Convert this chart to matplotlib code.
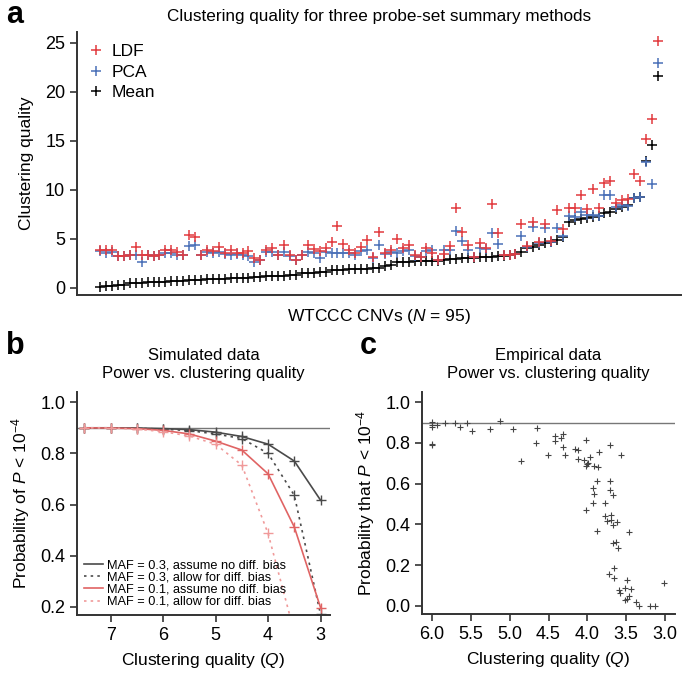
import matplotlib
matplotlib.use('Agg')
import matplotlib.pyplot as plt
from matplotlib.lines import Line2D

plt.rcParams['font.family'] = ['Liberation Sans', 'DejaVu Sans']
plt.rcParams['mathtext.fontset'] = 'custom'
plt.rcParams['mathtext.rm'] = 'Liberation Sans'
plt.rcParams['mathtext.it'] = 'Liberation Sans:italic'

# panel a: clustering quality for 95 WTCCC CNVs, sorted by Mean
mean_q = [0.1, 0.2, 0.2, 0.25, 0.3, 0.45, 0.5, 0.5, 0.55, 0.55,
          0.6, 0.6, 0.65, 0.7, 0.7, 0.75, 0.8, 0.8, 0.85, 0.85,
          0.9, 0.9, 0.95, 0.95, 1.0, 1.0, 1.05, 1.1, 1.15, 1.15,
          1.2, 1.2, 1.25, 1.3, 1.45, 1.5, 1.5, 1.55, 1.6, 1.8,
          1.85, 1.85, 1.9, 1.9, 1.95, 1.95, 2.0, 2.0, 2.2, 2.3,
          2.6, 2.65, 2.65, 2.7, 2.7, 2.7, 2.75, 2.75, 2.8, 2.9,
          2.95, 3.0, 3.0, 3.05, 3.1, 3.1, 3.15, 3.2, 3.25, 3.3,
          3.4, 3.6, 4.05, 4.2, 4.35, 4.6, 4.7, 4.85, 5.2, 6.7,
          6.9, 7.0, 7.1, 7.2, 7.3, 7.6, 7.75, 8.0, 8.2, 8.4,
          9.2, 9.3, 12.9, 14.6, 21.6]
ldf_q = [3.85, 3.85, 3.8, 3.2, 3.2, 3.35, 4.2, 3.3, 3.35, 3.2,
         3.35, 3.85, 3.85, 3.6, 3.3, 5.4, 5.2, 3.3, 3.85, 3.7,
         4.1, 3.5, 3.8, 3.5, 3.5, 3.75, 3.0, 2.8, 3.85, 4.0,
         3.35, 4.35, 3.3, 2.85, 3.35, 4.35, 3.9, 3.75, 4.0, 4.7,
         6.3, 4.5, 3.85, 3.5, 4.2, 4.9, 3.15, 5.7, 3.5, 3.85,
         5.0, 4.0, 4.4, 3.35, 3.15, 4.0, 3.5, 2.8, 3.45, 4.3,
         8.1, 5.7, 4.35, 3.15, 4.6, 4.0, 8.5, 5.6, 3.3, 3.3,
         3.4, 6.5, 4.3, 6.7, 4.7, 6.5, 4.8, 7.9, 6.0, 8.1,
         8.1, 9.5, 8.0, 10.1, 8.1, 10.7, 10.9, 8.6, 8.9, 9.0,
         11.6, 10.9, 15.2, 17.2, 25.2]
pca_q = [3.7, 3.5, 3.6, 3.2, 3.2, 3.3, 3.35, 2.65, 3.3, 3.2,
         3.3, 3.5, 3.5, 3.35, 3.3, 4.25, 4.4, 3.3, 3.6, 3.5,
         3.6, 3.4, 3.35, 3.4, 3.35, 3.2, 2.65, 2.8, 3.6, 3.6,
         3.3, 3.6, 3.2, 2.85, 3.3, 3.6, 3.5, 3.05, 3.6, 3.5,
         3.55, 3.55, 3.5, 3.35, 3.7, 3.85, 3.0, 4.4, 3.4, 3.6,
         3.55, 3.7, 3.85, 3.2, 3.1, 3.7, 3.85, 2.8, 3.85, 3.85,
         5.8, 4.75, 3.85, 3.1, 4.0, 3.9, 5.6, 4.5, 3.3, 3.3,
         3.45, 5.3, 4.1, 6.2, 4.6, 6.1, 4.7, 6.1, 5.3, 7.3,
         7.2, 7.7, 7.4, 7.4, 7.3, 9.45, 9.45, 8.2, 8.4, 8.3,
         9.2, 9.3, 12.8, 10.6, 22.9]

# panel b: simulated power curves
q_sim = [7.5, 7, 6.5, 6, 5.5, 5, 4.5, 4, 3.5, 3]
maf3_nobias = [0.9, 0.9, 0.899, 0.897, 0.893, 0.883, 0.866, 0.836, 0.77, 0.617]
maf3_bias = [0.9, 0.9, 0.898, 0.895, 0.889, 0.876, 0.858, 0.80, 0.636, 0.17]
maf1_nobias = [0.9, 0.899, 0.897, 0.89, 0.876, 0.848, 0.813, 0.72, 0.512, 0.197]
maf1_bias = [0.9, 0.899, 0.895, 0.885, 0.868, 0.836, 0.754, 0.487, 0.10, 0.0]
sim_labels = ['MAF = 0.3, assume no diff. bias', 'MAF = 0.3, allow for diff. bias',
              'MAF = 0.1, assume no diff. bias', 'MAF = 0.1, allow for diff. bias']

# panel c: empirical power
q_emp = [6.0, 6.0, 6.0, 6.0, 6.0, 5.94, 5.84, 5.70, 5.64, 5.55,
         5.49, 5.26, 5.12, 4.96, 4.86, 4.66, 4.65, 4.51, 4.42, 4.42,
         4.34, 4.31, 4.31, 4.29, 4.02, 4.16, 4.12, 4.12, 4.04, 4.01,
         4.02, 3.99, 3.96, 3.92, 3.86, 3.85, 3.71, 3.56, 3.88, 3.93,
         3.92, 3.93, 4.02, 3.71, 3.71, 3.67, 3.77, 3.77, 3.69, 3.70,
         3.74, 3.62, 3.67, 3.87, 3.46, 3.67, 3.63, 3.61, 3.66, 3.72,
         3.66, 3.49, 3.59, 3.58, 3.52, 3.44, 3.52, 3.49, 3.46, 3.37,
         3.34, 3.19, 3.13, 3.01]
p_emp = [0.905, 0.89, 0.88, 0.795, 0.79, 0.888, 0.9, 0.897, 0.877, 0.9,
         0.86, 0.867, 0.91, 0.867, 0.712, 0.802, 0.871, 0.742, 0.807, 0.832,
         0.826, 0.845, 0.78, 0.739, 0.813, 0.772, 0.767, 0.723, 0.718, 0.698,
         0.689, 0.702, 0.731, 0.685, 0.682, 0.755, 0.791, 0.739, 0.612, 0.581,
         0.551, 0.506, 0.473, 0.612, 0.571, 0.543, 0.503, 0.44, 0.445, 0.421,
         0.418, 0.413, 0.395, 0.369, 0.361, 0.31, 0.313, 0.286, 0.184, 0.157,
         0.135, 0.127, 0.078, 0.062, 0.086, 0.082, 0.029, 0.033, 0.046, 0.021,
         0.0, 0.0, 0.0, 0.111]

RED = '#e23b3f'
BLUE = '#4a70b8'
GREY = '#4a4a4a'
RED_B = '#e06464'
RED_L = '#f09a9a'
DOT = (0, (1.5, 2.5))

W, H = 684, 673
fig = plt.figure(figsize=(W / 100, H / 100), dpi=100)


def px_axes(left, top, right, bottom):
    return fig.add_axes([left / W, 1 - bottom / H, (right - left) / W, (bottom - top) / H])


def style(ax):
    for s in ('top', 'right'):
        ax.spines[s].set_visible(False)
    for s in ('left', 'bottom'):
        ax.spines[s].set_linewidth(1.4)
        ax.spines[s].set_color('#333333')
    ax.tick_params(direction='out', length=5, width=1.2, color='#333333', labelsize=13)


# ---- panel a ----
ax = px_axes(77, 32, 681, 295)
style(ax)
idx = list(range(len(mean_q)))
mk = dict(marker='+', linestyle='none', markersize=7, markeredgewidth=1.1)
ax.plot(idx, mean_q, color='black', **mk)
ax.plot(idx, pca_q, color=BLUE, **mk)
ax.plot(idx, ldf_q, color=RED, **mk)
ax.set_xlim(-3.9, 97.9)
ax.set_ylim(-0.75, 26.1)
ax.set_yticks([0, 5, 10, 15, 20, 25])
ax.set_xticks([])
ax.set_ylabel('Clustering quality', fontsize=12.5, labelpad=8)
ax.set_xlabel('WTCCC CNVs ($\\mathit{N}$ = 95)', fontsize=12.5, labelpad=9)
ax.set_title('Clustering quality for three probe-set summary methods', fontsize=12.3, pad=8)
handles = [Line2D([], [], color=c, **mk) for c in (RED, BLUE, 'black')]
ax.legend(handles, ['LDF', 'PCA', 'Mean'], loc='upper left', bbox_to_anchor=(0.0, 1.0),
          frameon=False, fontsize=12.5, handlelength=0.8, handletextpad=0.5,
          labelspacing=0.3, borderaxespad=0.3)

# ---- panel b ----
ax = px_axes(77, 392, 330, 615)
style(ax)
ax.axhline(0.9, color='#777777', linewidth=1.0)
mb = dict(marker='+', markersize=6.5, markeredgewidth=1.0)
styles = [(GREY, '-'), (GREY, DOT), (RED_B, '-'), (RED_L, DOT)]
for ys, (c, ls) in zip([maf3_nobias, maf3_bias, maf1_nobias, maf1_bias], styles):
    ax.plot(q_sim, ys, color=c, linestyle=ls, linewidth=1.2, **mb)
ax.set_xlim(7.64, 2.82)
ax.set_ylim(0.168, 1.04)
ax.set_xticks([7, 6, 5, 4, 3])
ax.set_yticks([0.2, 0.4, 0.6, 0.8, 1.0])
ax.set_ylabel('Probability of $\\mathit{P}$ < 10$^{-4}$', fontsize=12.5, labelpad=6)
ax.set_xlabel('Clustering quality ($\\mathit{Q}$)', fontsize=12.5, labelpad=5)
ax.set_title('Simulated data\nPower vs. clustering quality', fontsize=12, pad=10, linespacing=1.25)
leg_handles = [Line2D([], [], color=c, linestyle=ls, linewidth=1.2) for c, ls in styles]
ax.legend(leg_handles, sim_labels, loc='lower left', frameon=False, fontsize=9.2,
          handlelength=1.5, handletextpad=0.3, labelspacing=0.02, borderaxespad=0.15)

# ---- panel c ----
ax = px_axes(422, 392, 675, 614)
style(ax)
ax.axhline(0.9, color='#777777', linewidth=1.0)
ax.plot(q_emp, p_emp, marker='+', linestyle='none', color='#444444', markersize=5,
        markeredgewidth=0.8)
ax.set_xlim(6.13, 2.87)
ax.set_ylim(-0.04, 1.05)
ax.set_xticks([6.0, 5.5, 5.0, 4.5, 4.0, 3.5, 3.0])
ax.set_xticklabels(['6.0', '5.5', '5.0', '4.5', '4.0', '3.5', '3.0'])
ax.set_yticks([0.0, 0.2, 0.4, 0.6, 0.8, 1.0])
ax.set_ylabel('Probability that $\\mathit{P}$ < 10$^{-4}$', fontsize=12.5, labelpad=6)
ax.set_xlabel('Clustering quality ($\\mathit{Q}$)', fontsize=12.5, labelpad=5)
ax.set_title('Empirical data\nPower vs. clustering quality', fontsize=12, pad=10, linespacing=1.25)

# panel letters
fig.text(15 / W, 1 - 15 / H, 'a', fontsize=22, fontweight='bold', ha='center', va='center')
fig.text(15 / W, 1 - 346 / H, 'b', fontsize=22, fontweight='bold', ha='center', va='center')
fig.text(368 / W, 1 - 346 / H, 'c', fontsize=22, fontweight='bold', ha='center', va='center')

fig.savefig('out.png', dpi=100)
